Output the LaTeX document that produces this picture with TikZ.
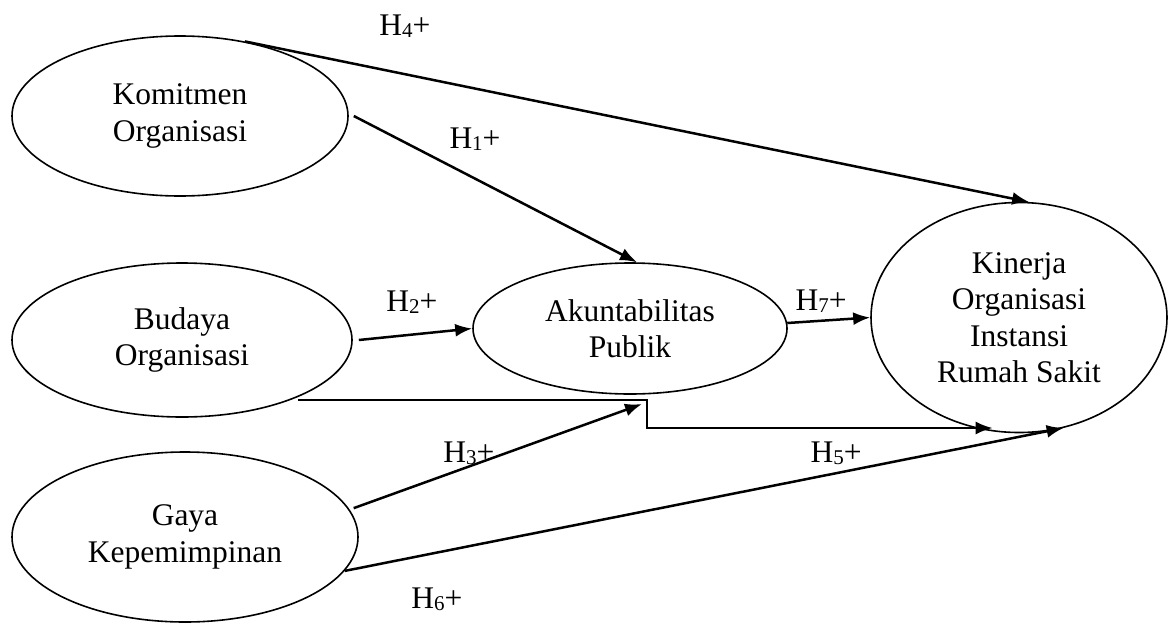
\documentclass[tikz,border=0pt]{standalone}
\usepackage{fontspec}
\setmainfont{Liberation Serif}
\usetikzlibrary{shapes.geometric, arrows.meta}

\newcommand{\hyp}[1]{H\raisebox{-2.5pt}{\fontsize{21}{21}\selectfont #1}+}

\begin{document}
\begin{tikzpicture}[x=1pt, y=-1pt,
    var/.style={ellipse, draw, line width=1.6pt, inner sep=0pt, align=center,
      font=\fontsize{31.5}{36.5}\selectfont},
    arr/.style={-{Latex[length=17pt, width=13pt]}, line width=2.5pt, line join=miter},
    lab/.style={anchor=base, font=\fontsize{31.5}{36.5}\selectfont}]
    \useasboundingbox (0,0) rectangle (1169,624);

    % variabel bebas
    \node[var, minimum width=336pt, minimum height=160pt] (KO) at (180,116) {Komitmen\\Organisasi};
    \node[var, minimum width=340pt, minimum height=154pt] (BO) at (182,340) {Budaya\\Organisasi};
    \node[var, minimum width=346pt, minimum height=170pt] (GK) at (185,537) {Gaya\\Kepemimpinan};

    % variabel intervening dan terikat
    \node[var, minimum width=314pt, minimum height=131pt] (AP) at (630,328.5) {Akuntabilitas\\Publik};
    \node[var, minimum width=296pt, minimum height=230pt] (KI) at (1019,317.5) {Kinerja\\Organisasi\\Instansi\\Rumah Sakit};

    % hipotesis
    \draw[arr] (KO.49.5) -- (KI.85);
    \draw[arr] ([xshift=5pt]KO.east) -- (AP.84);
    \draw[arr] ([xshift=6pt]BO.east) -- (AP.west);
    \draw[arr] (AP.2) -- (KI.west);

    \coordinate (h5start) at (298,400);
    \coordinate (h5knee) at (647,400);
    \coordinate (h5bend) at (647,428);
    \draw[arr] (h5start) -- (h5knee) -- (h5bend) -- (KI.-103 |- h5bend);

    \draw[arr] ([xshift=5pt]GK.10) -- ([xshift=-5pt, yshift=-4pt]h5knee);
    \draw[arr] (GK.-12.3) -- (KI.-68);

    % label
    \node[lab] (L4) at (405,35) {\hyp{4}};
    \node[lab] (L1) at (475,148) {\hyp{1}};
    \node[lab] (L2) at (412,311) {\hyp{2}};
    \node[lab] (L7) at (821,310) {\hyp{7}};
    \node[lab] (L5) at (836,462) {\hyp{5}};
    \node[lab] (L3) at (469,462) {\hyp{3}};
    \node[lab] (L6) at (437,608) {\hyp{6}};
\end{tikzpicture}
\end{document}
